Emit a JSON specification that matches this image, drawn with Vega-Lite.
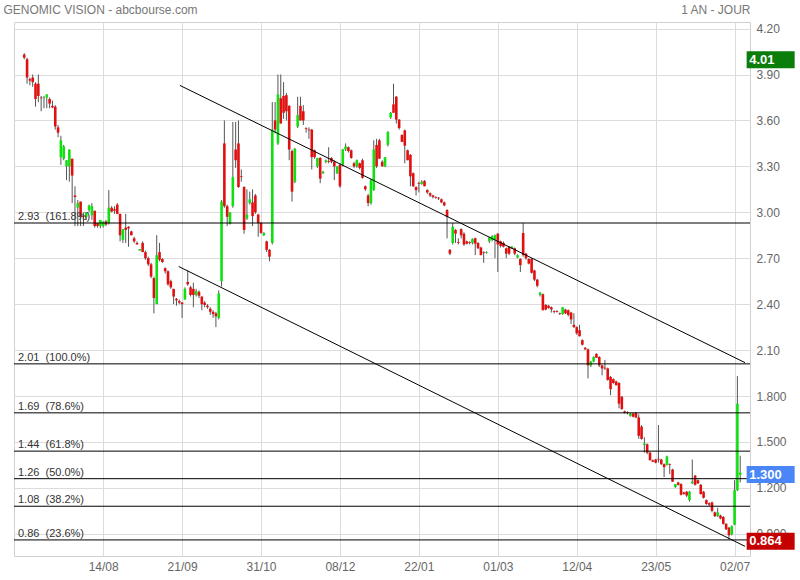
{
  "$schema": "https://vega.github.io/schema/vega-lite/v6.json",
  "width": 736,
  "height": 534,
  "autosize": {"type": "none"},
  "padding": {"left": 14, "top": 22, "right": 50, "bottom": 24},
  "background": "white",
  "config": {"view": {"stroke": "#d0d0d0"}, "font": "Liberation Sans"},
  "datasets": {
    "k": [
      {"i":0,"o":4.03,"h":4.04,"l":4.00,"c":4.01},{"i":1,"o":4.00,"h":4.01,"l":3.84,"c":3.88},{"i":2,"o":3.87,"h":3.88,"l":3.83,"c":3.86},{"i":3,"o":3.88,"h":3.90,"l":3.82,"c":3.85},{"i":4,"o":3.84,"h":3.85,"l":3.69,"c":3.74},
      {"i":5,"o":3.84,"h":3.90,"l":3.72,"c":3.76},{"i":6,"o":3.75,"h":3.76,"l":3.66,"c":3.745},{"i":7,"o":3.745,"h":3.76,"l":3.68,"c":3.75},{"i":8,"o":3.75,"h":3.77,"l":3.68,"c":3.77},{"i":9,"o":3.74,"h":3.75,"l":3.68,"c":3.71},
      {"i":10,"o":3.695,"h":3.73,"l":3.68,"c":3.685},{"i":11,"o":3.69,"h":3.70,"l":3.54,"c":3.56},{"i":12,"o":3.555,"h":3.57,"l":3.49,"c":3.52},{"i":13,"o":3.36,"h":3.50,"l":3.31,"c":3.47},{"i":14,"o":3.35,"h":3.44,"l":3.34,"c":3.43},
      {"i":15,"o":3.30,"h":3.34,"l":3.21,"c":3.34},{"i":16,"o":3.30,"h":3.41,"l":3.20,"c":3.41},{"i":17,"o":3.35,"h":3.35,"l":3.06,"c":3.24},{"i":18,"o":3.11,"h":3.17,"l":2.91,"c":3.10},{"i":19,"o":3.03,"h":3.08,"l":2.91,"c":3.06},
      {"i":20,"o":3.07,"h":3.07,"l":2.91,"c":2.97},{"i":21,"o":2.975,"h":2.99,"l":2.91,"c":2.97},{"i":22,"o":2.97,"h":3.00,"l":2.95,"c":3.00},{"i":23,"o":3.015,"h":3.05,"l":3.00,"c":3.045},{"i":24,"o":2.98,"h":3.06,"l":2.95,"c":3.04},
      {"i":25,"o":3.01,"h":3.01,"l":2.90,"c":2.91},{"i":26,"o":2.93,"h":2.93,"l":2.90,"c":2.91},{"i":27,"o":2.91,"h":2.95,"l":2.895,"c":2.95},{"i":28,"o":2.91,"h":2.94,"l":2.90,"c":2.94},{"i":29,"o":2.94,"h":2.95,"l":2.91,"c":2.92},
      {"i":30,"o":2.93,"h":3.145,"l":2.92,"c":3.03},{"i":31,"o":3.03,"h":3.04,"l":3.00,"c":3.005},{"i":32,"o":3.02,"h":3.04,"l":2.99,"c":3.01},{"i":33,"o":3.05,"h":3.06,"l":2.99,"c":2.99},{"i":34,"o":2.99,"h":2.99,"l":2.81,"c":2.85},
      {"i":35,"o":2.82,"h":2.89,"l":2.80,"c":2.89},{"i":36,"o":2.90,"h":2.99,"l":2.80,"c":2.885},{"i":37,"o":2.905,"h":2.91,"l":2.775,"c":2.895},{"i":38,"o":2.875,"h":2.88,"l":2.85,"c":2.85},{"i":39,"o":2.83,"h":2.84,"l":2.80,"c":2.81},
      {"i":40,"o":2.80,"h":2.81,"l":2.79,"c":2.79},{"i":41,"o":2.75,"h":2.76,"l":2.75,"c":2.76},{"i":42,"o":2.80,"h":2.81,"l":2.74,"c":2.74},{"i":43,"o":2.74,"h":2.75,"l":2.69,"c":2.70},{"i":44,"o":2.70,"h":2.71,"l":2.65,"c":2.66},
      {"i":45,"o":2.66,"h":2.67,"l":2.57,"c":2.58},{"i":46,"o":2.57,"h":2.58,"l":2.34,"c":2.44},{"i":47,"o":2.40,"h":2.85,"l":2.40,"c":2.72},{"i":48,"o":2.74,"h":2.80,"l":2.68,"c":2.69},{"i":49,"o":2.695,"h":2.70,"l":2.67,"c":2.675},
      {"i":50,"o":2.635,"h":2.64,"l":2.60,"c":2.615},{"i":51,"o":2.615,"h":2.62,"l":2.52,"c":2.53},{"i":52,"o":2.55,"h":2.56,"l":2.50,"c":2.51},{"i":53,"o":2.50,"h":2.50,"l":2.40,"c":2.45},{"i":54,"o":2.435,"h":2.44,"l":2.39,"c":2.425},
      {"i":55,"o":2.42,"h":2.43,"l":2.40,"c":2.41},{"i":56,"o":2.41,"h":2.415,"l":2.31,"c":2.40},{"i":57,"o":2.43,"h":2.51,"l":2.43,"c":2.50},{"i":58,"o":2.545,"h":2.62,"l":2.52,"c":2.53},{"i":59,"o":2.51,"h":2.52,"l":2.45,"c":2.46},
      {"i":60,"o":2.50,"h":2.54,"l":2.38,"c":2.46},{"i":61,"o":2.46,"h":2.50,"l":2.45,"c":2.485},{"i":62,"o":2.48,"h":2.49,"l":2.44,"c":2.455},{"i":63,"o":2.45,"h":2.45,"l":2.36,"c":2.40},{"i":64,"o":2.41,"h":2.42,"l":2.38,"c":2.395},
      {"i":65,"o":2.39,"h":2.40,"l":2.37,"c":2.38},{"i":66,"o":2.37,"h":2.38,"l":2.33,"c":2.35},{"i":67,"o":2.35,"h":2.36,"l":2.31,"c":2.335},{"i":68,"o":2.34,"h":2.35,"l":2.25,"c":2.32},{"i":69,"o":2.31,"h":2.49,"l":2.30,"c":2.47},
      {"i":70,"o":2.55,"h":3.08,"l":2.515,"c":3.07},{"i":71,"o":3.45,"h":3.60,"l":3.03,"c":3.04},{"i":72,"o":3.04,"h":3.05,"l":2.91,"c":2.97},{"i":73,"o":2.925,"h":3.00,"l":2.92,"c":3.00},{"i":74,"o":3.04,"h":3.59,"l":3.03,"c":3.23},
      {"i":75,"o":3.41,"h":3.59,"l":3.29,"c":3.34},{"i":76,"o":3.45,"h":3.60,"l":3.16,"c":3.165},{"i":77,"o":3.235,"h":3.28,"l":3.20,"c":3.23},{"i":78,"o":3.165,"h":3.17,"l":2.86,"c":2.885},{"i":79,"o":2.96,"h":3.15,"l":2.95,"c":2.985},
      {"i":80,"o":3.06,"h":3.135,"l":3.05,"c":3.085},{"i":81,"o":3.065,"h":3.15,"l":2.91,"c":2.975},{"i":82,"o":3.11,"h":3.12,"l":2.99,"c":3.00},{"i":83,"o":2.985,"h":2.99,"l":2.84,"c":2.93},{"i":84,"o":2.93,"h":2.935,"l":2.86,"c":2.865},
      {"i":85,"o":2.85,"h":2.87,"l":2.845,"c":2.865},{"i":86,"o":2.81,"h":2.815,"l":2.74,"c":2.755},{"i":87,"o":2.755,"h":2.76,"l":2.68,"c":2.71},{"i":88,"o":2.80,"h":3.72,"l":2.79,"c":3.54},{"i":89,"o":3.60,"h":3.72,"l":3.515,"c":3.54},
      {"i":90,"o":3.45,"h":3.90,"l":3.44,"c":3.77},{"i":91,"o":3.745,"h":3.90,"l":3.58,"c":3.58},{"i":92,"o":3.76,"h":3.85,"l":3.61,"c":3.65},{"i":93,"o":3.765,"h":3.78,"l":3.60,"c":3.66},{"i":94,"o":3.695,"h":3.70,"l":3.34,"c":3.41},
      {"i":95,"o":3.40,"h":3.41,"l":3.07,"c":3.135},{"i":96,"o":3.20,"h":3.42,"l":3.19,"c":3.415},{"i":97,"o":3.56,"h":3.755,"l":3.55,"c":3.635},{"i":98,"o":3.695,"h":3.755,"l":3.60,"c":3.60},{"i":99,"o":3.66,"h":3.70,"l":3.57,"c":3.60},
      {"i":100,"o":3.55,"h":3.555,"l":3.52,"c":3.545},{"i":101,"o":3.54,"h":3.555,"l":3.48,"c":3.535},{"i":102,"o":3.54,"h":3.545,"l":3.28,"c":3.36},{"i":103,"o":3.405,"h":3.41,"l":3.35,"c":3.36},{"i":104,"o":3.30,"h":3.355,"l":3.29,"c":3.355},
      {"i":105,"o":3.355,"h":3.36,"l":3.19,"c":3.22},{"i":106,"o":3.255,"h":3.27,"l":3.25,"c":3.265},{"i":107,"o":3.33,"h":3.345,"l":3.32,"c":3.34},{"i":108,"o":3.335,"h":3.425,"l":3.32,"c":3.33},{"i":109,"o":3.355,"h":3.36,"l":3.32,"c":3.33},
      {"i":110,"o":3.33,"h":3.34,"l":3.21,"c":3.30},{"i":111,"o":3.255,"h":3.30,"l":3.25,"c":3.30},{"i":112,"o":3.31,"h":3.32,"l":3.16,"c":3.17},{"i":113,"o":3.31,"h":3.415,"l":3.30,"c":3.41},{"i":114,"o":3.41,"h":3.45,"l":3.40,"c":3.43},
      {"i":115,"o":3.425,"h":3.43,"l":3.39,"c":3.40},{"i":116,"o":3.405,"h":3.41,"l":3.35,"c":3.355},{"i":117,"o":3.32,"h":3.33,"l":3.29,"c":3.30},{"i":118,"o":3.30,"h":3.345,"l":3.29,"c":3.34},{"i":119,"o":3.32,"h":3.325,"l":3.28,"c":3.29},
      {"i":120,"o":3.34,"h":3.35,"l":3.22,"c":3.225},{"i":121,"o":3.17,"h":3.175,"l":3.14,"c":3.15},{"i":122,"o":3.11,"h":3.12,"l":3.04,"c":3.06},{"i":123,"o":3.06,"h":3.22,"l":3.05,"c":3.21},{"i":124,"o":3.145,"h":3.47,"l":3.14,"c":3.41},
      {"i":125,"o":3.44,"h":3.48,"l":3.29,"c":3.30},{"i":126,"o":3.47,"h":3.48,"l":3.35,"c":3.35},{"i":127,"o":3.33,"h":3.34,"l":3.30,"c":3.30},{"i":128,"o":3.30,"h":3.36,"l":3.295,"c":3.36},{"i":129,"o":3.44,"h":3.53,"l":3.43,"c":3.525},
      {"i":130,"o":3.62,"h":3.655,"l":3.61,"c":3.65},{"i":131,"o":3.705,"h":3.84,"l":3.65,"c":3.65},{"i":132,"o":3.755,"h":3.76,"l":3.58,"c":3.605},{"i":133,"o":3.605,"h":3.61,"l":3.54,"c":3.55},{"i":134,"o":3.505,"h":3.51,"l":3.46,"c":3.46},
      {"i":135,"o":3.535,"h":3.54,"l":3.32,"c":3.435},{"i":136,"o":3.405,"h":3.41,"l":3.34,"c":3.34},{"i":137,"o":3.375,"h":3.38,"l":3.17,"c":3.235},{"i":138,"o":3.255,"h":3.26,"l":3.165,"c":3.17},{"i":139,"o":3.165,"h":3.17,"l":3.11,"c":3.145},
      {"i":140,"o":3.19,"h":3.20,"l":3.13,"c":3.185},{"i":141,"o":3.185,"h":3.21,"l":3.18,"c":3.20},{"i":142,"o":3.205,"h":3.21,"l":3.17,"c":3.17},{"i":143,"o":3.145,"h":3.15,"l":3.12,"c":3.13},{"i":144,"o":3.125,"h":3.13,"l":3.10,"c":3.11},
      {"i":145,"o":3.11,"h":3.115,"l":3.09,"c":3.10},{"i":146,"o":3.10,"h":3.105,"l":3.09,"c":3.095},{"i":147,"o":3.095,"h":3.10,"l":3.08,"c":3.09},{"i":148,"o":3.085,"h":3.09,"l":3.06,"c":3.065},{"i":149,"o":3.065,"h":3.07,"l":3.04,"c":3.045},
      {"i":150,"o":3.015,"h":3.02,"l":2.83,"c":2.97},{"i":151,"o":2.755,"h":2.76,"l":2.72,"c":2.73},{"i":152,"o":2.80,"h":2.93,"l":2.79,"c":2.905},{"i":153,"o":2.885,"h":2.89,"l":2.80,"c":2.86},{"i":154,"o":2.805,"h":2.83,"l":2.79,"c":2.80},
      {"i":155,"o":2.89,"h":2.895,"l":2.83,"c":2.85},{"i":156,"o":2.86,"h":2.87,"l":2.78,"c":2.79},{"i":157,"o":2.81,"h":2.815,"l":2.79,"c":2.795},{"i":158,"o":2.805,"h":2.81,"l":2.79,"c":2.80},{"i":159,"o":2.80,"h":2.83,"l":2.79,"c":2.825},
      {"i":160,"o":2.83,"h":2.835,"l":2.72,"c":2.795},{"i":161,"o":2.80,"h":2.805,"l":2.76,"c":2.765},{"i":162,"o":2.77,"h":2.775,"l":2.72,"c":2.72},{"i":163,"o":2.74,"h":2.745,"l":2.67,"c":2.735},{"i":164,"o":2.735,"h":2.745,"l":2.73,"c":2.74},
      {"i":165,"o":2.81,"h":2.84,"l":2.80,"c":2.835},{"i":166,"o":2.82,"h":2.85,"l":2.81,"c":2.845},{"i":167,"o":2.82,"h":2.855,"l":2.70,"c":2.85},{"i":168,"o":2.86,"h":2.865,"l":2.61,"c":2.79},{"i":169,"o":2.81,"h":2.815,"l":2.77,"c":2.78},
      {"i":170,"o":2.80,"h":2.81,"l":2.77,"c":2.775},{"i":171,"o":2.765,"h":2.77,"l":2.70,"c":2.73},{"i":172,"o":2.775,"h":2.78,"l":2.72,"c":2.73},{"i":173,"o":2.765,"h":2.78,"l":2.76,"c":2.775},{"i":174,"o":2.765,"h":2.77,"l":2.72,"c":2.73},
      {"i":175,"o":2.705,"h":2.725,"l":2.70,"c":2.72},{"i":176,"o":2.695,"h":2.70,"l":2.61,"c":2.655},{"i":177,"o":2.865,"h":2.93,"l":2.71,"c":2.72},{"i":178,"o":2.73,"h":2.735,"l":2.69,"c":2.70},{"i":179,"o":2.695,"h":2.70,"l":2.66,"c":2.665},
      {"i":180,"o":2.695,"h":2.70,"l":2.60,"c":2.605},{"i":181,"o":2.62,"h":2.625,"l":2.55,"c":2.56},{"i":182,"o":2.56,"h":2.565,"l":2.51,"c":2.52},{"i":183,"o":2.46,"h":2.48,"l":2.45,"c":2.475},{"i":184,"o":2.465,"h":2.47,"l":2.36,"c":2.36},
      {"i":185,"o":2.395,"h":2.40,"l":2.36,"c":2.365},{"i":186,"o":2.39,"h":2.395,"l":2.37,"c":2.375},{"i":187,"o":2.38,"h":2.385,"l":2.345,"c":2.365},{"i":188,"o":2.355,"h":2.36,"l":2.34,"c":2.35},{"i":189,"o":2.355,"h":2.36,"l":2.345,"c":2.35},
      {"i":190,"o":2.34,"h":2.345,"l":2.33,"c":2.335},{"i":191,"o":2.335,"h":2.38,"l":2.33,"c":2.38},{"i":192,"o":2.365,"h":2.37,"l":2.335,"c":2.34},{"i":193,"o":2.36,"h":2.365,"l":2.32,"c":2.33},{"i":194,"o":2.345,"h":2.35,"l":2.27,"c":2.30},
      {"i":195,"o":2.265,"h":2.34,"l":2.245,"c":2.25},{"i":196,"o":2.25,"h":2.255,"l":2.20,"c":2.21},{"i":197,"o":2.23,"h":2.265,"l":2.19,"c":2.19},{"i":198,"o":2.165,"h":2.17,"l":2.13,"c":2.135},{"i":199,"o":2.115,"h":2.12,"l":2.10,"c":2.105},
      {"i":200,"o":2.105,"h":2.11,"l":1.915,"c":2.00},{"i":201,"o":2.00,"h":2.03,"l":1.99,"c":2.025},{"i":202,"o":2.025,"h":2.06,"l":2.02,"c":2.055},{"i":203,"o":2.075,"h":2.08,"l":2.05,"c":2.05},{"i":204,"o":2.055,"h":2.06,"l":1.99,"c":2.00},
      {"i":205,"o":2.00,"h":2.005,"l":1.935,"c":1.98},{"i":206,"o":1.985,"h":2.035,"l":1.97,"c":1.98},{"i":207,"o":1.98,"h":1.985,"l":1.90,"c":1.905},{"i":208,"o":1.925,"h":1.93,"l":1.805,"c":1.845},{"i":209,"o":1.91,"h":1.915,"l":1.88,"c":1.885},
      {"i":210,"o":1.895,"h":1.90,"l":1.87,"c":1.87},{"i":211,"o":1.885,"h":1.89,"l":1.72,"c":1.75},{"i":212,"o":1.795,"h":1.80,"l":1.71,"c":1.715},{"i":213,"o":1.70,"h":1.705,"l":1.685,"c":1.69},{"i":214,"o":1.695,"h":1.70,"l":1.68,"c":1.69},
      {"i":215,"o":1.67,"h":1.69,"l":1.665,"c":1.685},{"i":216,"o":1.685,"h":1.69,"l":1.66,"c":1.665},{"i":217,"o":1.69,"h":1.695,"l":1.655,"c":1.66},{"i":218,"o":1.66,"h":1.68,"l":1.52,"c":1.54},{"i":219,"o":1.60,"h":1.61,"l":1.515,"c":1.52},
      {"i":220,"o":1.48,"h":1.53,"l":1.43,"c":1.49},{"i":221,"o":1.485,"h":1.49,"l":1.42,"c":1.43},{"i":222,"o":1.43,"h":1.435,"l":1.38,"c":1.38},{"i":223,"o":1.38,"h":1.385,"l":1.37,"c":1.37},{"i":224,"o":1.385,"h":1.39,"l":1.36,"c":1.365},
      {"i":225,"o":1.39,"h":1.61,"l":1.365,"c":1.385},{"i":226,"o":1.385,"h":1.39,"l":1.35,"c":1.355},{"i":227,"o":1.355,"h":1.36,"l":1.27,"c":1.335},{"i":228,"o":1.35,"h":1.41,"l":1.345,"c":1.405},{"i":229,"o":1.355,"h":1.36,"l":1.29,"c":1.35},
      {"i":230,"o":1.32,"h":1.325,"l":1.24,"c":1.24},{"i":231,"o":1.205,"h":1.225,"l":1.20,"c":1.225},{"i":232,"o":1.235,"h":1.24,"l":1.215,"c":1.22},{"i":233,"o":1.225,"h":1.23,"l":1.15,"c":1.155},{"i":234,"o":1.17,"h":1.175,"l":1.155,"c":1.16},
      {"i":235,"o":1.175,"h":1.18,"l":1.14,"c":1.15},{"i":236,"o":1.12,"h":1.18,"l":1.11,"c":1.175},{"i":237,"o":1.23,"h":1.385,"l":1.225,"c":1.24},{"i":238,"o":1.28,"h":1.285,"l":1.215,"c":1.22},{"i":239,"o":1.25,"h":1.255,"l":1.225,"c":1.23},
      {"i":240,"o":1.22,"h":1.225,"l":1.155,"c":1.16},{"i":241,"o":1.175,"h":1.18,"l":1.13,"c":1.135},{"i":242,"o":1.12,"h":1.125,"l":1.09,"c":1.095},{"i":243,"o":1.10,"h":1.105,"l":1.08,"c":1.09},{"i":244,"o":1.105,"h":1.11,"l":1.04,"c":1.05},
      {"i":245,"o":1.04,"h":1.045,"l":1.01,"c":1.015},{"i":246,"o":1.015,"h":1.07,"l":1.01,"c":1.04},{"i":247,"o":1.02,"h":1.025,"l":0.995,"c":1.00},{"i":248,"o":1.01,"h":1.015,"l":0.96,"c":0.965},{"i":249,"o":0.965,"h":0.97,"l":0.925,"c":0.93},
      {"i":250,"o":0.94,"h":0.945,"l":0.864,"c":0.89},{"i":251,"o":0.895,"h":0.955,"l":0.89,"c":0.95},{"i":252,"o":0.96,"h":1.25,"l":0.955,"c":1.185},{"i":253,"o":1.185,"h":1.93,"l":1.18,"c":1.75},{"i":254,"o":1.285,"h":1.41,"l":1.235,"c":1.30}
    ],
    "f": [
      {"v":2.93,"t":"2.93\u00a0 (161.8%)"},{"v":2.01,"t":"2.01\u00a0 (100.0%)"},{"v":1.69,"t":"1.69\u00a0 (78.6%)"},{"v":1.44,"t":"1.44\u00a0 (61.8%)"},
      {"v":1.26,"t":"1.26\u00a0 (50.0%)"},{"v":1.08,"t":"1.08\u00a0 (38.2%)"},{"v":0.86,"t":"0.86\u00a0 (23.6%)"}
    ],
    "t": [
      {"x1":55.2,"y1":3.829,"x2":255.7,"y2":2.018},
      {"x1":54.8,"y1":2.646,"x2":255.7,"y2":0.818}
    ],
    "g": [
      {"v":4.01,"t":"4.01","kind":"max"},{"v":1.30,"t":"1.300","kind":"last"},{"v":0.864,"t":"0.864","kind":"min"}
    ]
  },
  "layer": [
    {
      "data": {"name": "k"},
      "mark": {"type": "rule", "color": "#555", "strokeWidth": 1},
      "encoding": {
        "x": {"field": "i", "type": "quantitative", "scale": {"domain": [-1.86, 255.7], "nice": false, "zero": false},
          "axis": {"values": [28, 56, 84, 112, 140, 168, 196, 224, 252], "labelExpr": "['14/08','21/09','31/10','08/12','22/01','01/03','12/04','23/05','02/07'][round(datum.value/28)-1]", "grid": true, "gridColor": "#dcdcdc", "domain": false, "ticks": false, "labelPadding": 5, "labelColor": "#666", "labelFontSize": 12, "labelFont": "Liberation Sans",
            "title": "GENOMIC VISION - abcbourse.com", "titleX": -11, "titleY": -547, "titleAlign": "left", "titleAnchor": null, "titleBaseline": "middle", "titleFontSize": 12, "titleFontWeight": "normal", "titleColor": "#777", "titleFont": "Liberation Sans"}},
        "y": {"field": "l", "type": "quantitative", "scale": {"domain": [0.755, 4.243], "nice": false, "zero": false},
          "axis": {"orient": "right", "values": [0.9, 1.2, 1.5, 1.8, 2.1, 2.4, 2.7, 3.0, 3.3, 3.6, 3.9, 4.2], "labelExpr": "datum.value > 2 ? format(datum.value, '.2f') : format(datum.value, '.3f')", "grid": true, "gridColor": "#dcdcdc", "domain": false, "ticks": false, "labelPadding": 6, "labelColor": "#666", "labelFontSize": 12, "labelFont": "Liberation Sans",
            "title": "1 AN - JOUR", "titleAngle": 0, "titleX": 0, "titleY": -13, "titleAlign": "right", "titleBaseline": "middle", "titleFontSize": 12, "titleFontWeight": "normal", "titleColor": "#777", "titleFont": "Liberation Sans"}},
        "y2": {"field": "h"}
      }
    },
    {
      "data": {"name": "k"},
      "mark": {"type": "bar", "size": 2.6},
      "encoding": {
        "x": {"field": "i", "type": "quantitative"},
        "y": {"field": "o", "type": "quantitative"},
        "y2": {"field": "c"},
        "color": {"condition": {"test": "datum.c >= datum.o", "value": "#10e010"}, "value": "#e01010"}
      }
    },
    {
      "data": {"name": "f"},
      "mark": {"type": "rule", "color": "#000", "strokeWidth": 1},
      "encoding": {"y": {"field": "v", "type": "quantitative"}}
    },
    {
      "data": {"name": "t"},
      "mark": {"type": "rule", "color": "#000", "strokeWidth": 1},
      "encoding": {
        "x": {"field": "x1", "type": "quantitative"},
        "y": {"field": "y1", "type": "quantitative"},
        "x2": {"field": "x2"},
        "y2": {"field": "y2"}
      }
    },
    {
      "data": {"name": "f"},
      "mark": {"type": "text", "align": "left", "baseline": "alphabetic", "dx": -1, "dy": -3, "fontSize": 11, "color": "#333", "font": "Liberation Sans"},
      "encoding": {
        "x": {"datum": -1.86, "type": "quantitative"},
        "y": {"field": "v", "type": "quantitative"},
        "text": {"field": "t"}
      }
    },
    {
      "data": {"name": "g"},
      "mark": {"type": "tick", "orient": "horizontal", "size": 48, "thickness": 17, "clip": false, "opacity": 1, "yOffset": 2},
      "encoding": {
        "x": {"datum": 264.8, "type": "quantitative"},
        "y": {"field": "v", "type": "quantitative"},
        "color": {"field": "kind", "type": "nominal", "scale": {"domain": ["max", "last", "min"], "range": ["#0a7d0a", "#4a86f7", "#c40000"]}, "legend": null}
      }
    },
    {
      "data": {"name": "g"},
      "mark": {"type": "text", "align": "left", "baseline": "middle", "clip": false, "fontSize": 13, "fontWeight": "bold", "color": "white", "font": "Liberation Sans", "dy": 2},
      "encoding": {
        "x": {"datum": 257.2, "type": "quantitative"},
        "y": {"field": "v", "type": "quantitative"},
        "text": {"field": "t"}
      }
    }
  ]
}
